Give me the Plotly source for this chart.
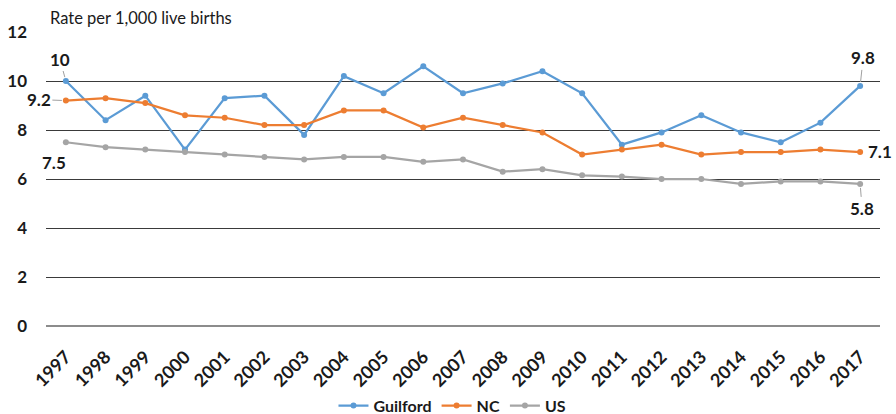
import plotly.graph_objects as go

years = list(range(1997, 2018))
guilford = [10, 8.4, 9.4, 7.2, 9.3, 9.4, 7.8, 10.2, 9.5, 10.6, 9.5, 9.9, 10.4, 9.5, 7.4, 7.9, 8.6, 7.9, 7.5, 8.3, 9.8]
nc = [9.2, 9.3, 9.1, 8.6, 8.5, 8.2, 8.2, 8.8, 8.8, 8.1, 8.5, 8.2, 7.9, 7.0, 7.2, 7.4, 7.0, 7.1, 7.1, 7.2, 7.1]
us = [7.5, 7.3, 7.2, 7.1, 7.0, 6.9, 6.8, 6.9, 6.9, 6.7, 6.8, 6.3, 6.4, 6.15, 6.1, 6.0, 6.0, 5.8, 5.9, 5.9, 5.8]
y_ticks = [0, 2, 4, 6, 8, 10, 12]

FONT = "Lato"
colors = {"Guilford": "#5B9BD5", "NC": "#ED7D31", "US": "#A5A5A5"}

fig = go.Figure()
for name, vals in [("Guilford", guilford), ("NC", nc), ("US", us)]:
    fig.add_trace(go.Scatter(
        x=years, y=vals, name=name, mode="lines+markers",
        line=dict(color=colors[name], width=2.25),
        marker=dict(color=colors[name], size=6),
    ))

lab_font = dict(family=FONT, size=17, color="#1a1a1a", weight="bold")
ann = [
    dict(x=years[0], y=guilford[0], text="10", ax=-6, ay=-22, showarrow=True),
    dict(x=years[0], y=nc[0], text="9.2", ax=-27, ay=-1, showarrow=True),
    dict(x=years[0], y=us[0], text="7.5", ax=-12, ay=20, showarrow=False),
    dict(x=years[-1], y=guilford[-1], text="9.8", ax=3, ay=-28, showarrow=True),
    dict(x=years[-1], y=nc[-1], text="7.1", ax=20, ay=-1, showarrow=False),
    dict(x=years[-1], y=us[-1], text="5.8", ax=2, ay=25, showarrow=True),
]
for a in ann:
    if a["showarrow"]:
        fig.add_annotation(x=a["x"], y=a["y"], text=a["text"], ax=a["ax"], ay=a["ay"],
                           showarrow=True, arrowhead=0, arrowwidth=1, arrowcolor="#a0a0a0",
                           standoff=4, font=lab_font)
    else:
        fig.add_annotation(x=a["x"], y=a["y"], text=a["text"], xshift=a["ax"], yshift=-a["ay"],
                           showarrow=False, font=lab_font)

fig.add_annotation(xref="paper", yref="paper", x=0.002, y=1.048, xanchor="left", yanchor="middle",
                   text="Rate per 1,000 live births", showarrow=False,
                   font=dict(family=FONT, size=16.5, color="#1a1a1a"))

fig.update_layout(
    width=896, height=414,
    margin=dict(l=46, r=16, t=32, b=88, autoexpand=False),
    paper_bgcolor="white", plot_bgcolor="white",
    font=dict(family=FONT, color="#1a1a1a"),
    showlegend=True,
    legend=dict(orientation="h", x=0.505, xanchor="center", xref="container",
                y=0.02, yanchor="middle", yref="container",
                font=dict(family=FONT, size=16, color="#1a1a1a", weight="bold"), itemwidth=30,
                tracegroupgap=0),
    xaxis=dict(range=[1996.5, 2017.5], tickmode="array", tickvals=years,
               ticktext=[str(y) for y in years], tickangle=-45, automargin=False,
               tickfont=dict(family=FONT, size=18, color="#1a1a1a", weight="bold"),
               showgrid=False, zeroline=False, showline=False, ticks="", ticklabelstandoff=16),
    yaxis=dict(range=[0, 12], tickmode="array", tickvals=y_ticks,
               ticktext=[str(v) for v in y_ticks], automargin=False,
               tickfont=dict(family=FONT, size=17, color="#1a1a1a", weight="bold"),
               showgrid=True, gridcolor="#3a3a3a", gridwidth=1,
               zeroline=True, zerolinecolor="#8c8c8c", zerolinewidth=2,
               showline=False, ticks="", ticklabelstandoff=18),
)

fig.write_html("out.html", config={"displayModeBar": False},
               post_script="document.body.style.margin='0';document.body.style.overflow='hidden';")
